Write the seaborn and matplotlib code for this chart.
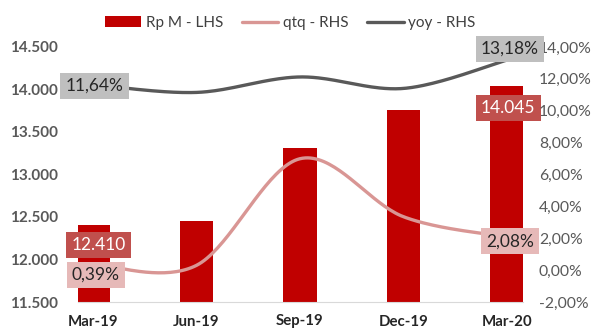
import numpy as np
import pandas as pd
import matplotlib
matplotlib.use("Agg")
import matplotlib.pyplot as plt
import seaborn as sns
from matplotlib.patches import Patch
from matplotlib.lines import Line2D
from matplotlib.ticker import FuncFormatter, MultipleLocator

# ---- data ----
categories = ["Mar-19", "Jun-19", "Sep-19", "Dec-19", "Mar-20"]
rp_m = [12410, 12450, 13310, 13760, 14045]
qtq = [0.0039, 0.0030, 0.0699, 0.0335, 0.0208]
yoy = [0.1164, 0.1115, 0.1212, 0.1140, 0.1318]
series_names = ["Rp M - LHS", "qtq - RHS", "yoy - RHS"]

BAR = "#C00000"
QTQ = "#D99694"
YOY = "#595959"
FONT = "Lato"

sns.set_theme(style="white")
plt.rcParams["font.family"] = [FONT, "DejaVu Sans"]

fig = plt.figure(figsize=(5.92, 3.31), dpi=100)
ax = fig.add_axes([78/592, 1-302/331, (523-78)/592, (302-47)/331])
pos = np.arange(len(categories))

sns.barplot(x=pos, y=rp_m, native_scale=True, width=0.325, color=BAR,
            saturation=1, ax=ax, edgecolor="none")
ax.set_xlim(-0.145, 4.155)
ax.set_ylim(11500, 14500)
ax.yaxis.set_major_locator(MultipleLocator(500))
ax.yaxis.set_major_formatter(FuncFormatter(lambda v, p: f"{v:,.0f}".replace(",", ".")))
ax.set_xticks(pos)
ax.set_xticklabels(categories)
for lab in ax.get_xticklabels():
    lab.set_fontweight("bold"); lab.set_fontsize(10.8); lab.set_color("#262626")
for lab in ax.get_yticklabels():
    lab.set_fontweight("bold"); lab.set_fontsize(11); lab.set_color("#595959")
ax.tick_params(axis="x", length=0, pad=9)
ax.tick_params(axis="y", length=0, pad=14.5)
for s in ["top", "left", "right"]:
    ax.spines[s].set_visible(False)
ax.spines["bottom"].set_color("#D9D9D9")
ax.spines["bottom"].set_linewidth(0.8)
ax.set_xlabel(""); ax.set_ylabel("")
ax.grid(False)

ax2 = ax.twinx()
ax2.set_position(ax.get_position())


def smooth(xs, ys, n=40):
    xs = np.asarray(xs, float); ys = np.asarray(ys, float)
    P = np.column_stack([xs, ys])
    P = np.vstack([P[0], P, P[-1]])
    out = []
    for i in range(1, len(P) - 2):
        p0, p1, p2, p3 = P[i-1], P[i], P[i+1], P[i+2]
        c1 = p1 + (p2 - p0) / 6
        c2 = p2 - (p3 - p1) / 6
        t = np.linspace(0, 1, n)[:, None]
        seg = (1-t)**3*p1 + 3*(1-t)**2*t*c1 + 3*(1-t)*t**2*c2 + t**3*p2
        out.append(seg if i == 1 else seg[1:])
    s = np.vstack(out)
    return s[:, 0], s[:, 1]

qx, qy = smooth(pos, qtq)
yx, yy = smooth(pos, yoy)
sns.lineplot(x=qx, y=qy, ax=ax2, sort=False, color=QTQ, linewidth=2.4, estimator=None)
sns.lineplot(x=yx, y=yy, ax=ax2, sort=False, color=YOY, linewidth=2.4, estimator=None)
ax2.set_xlim(-0.145, 4.155)
ax2.set_ylim(-0.02, 0.14)
ax2.yaxis.set_major_locator(MultipleLocator(0.02))
ax2.yaxis.set_major_formatter(FuncFormatter(lambda v, p: f"{v*100:.2f}%".replace(".", ",")))
for lab in ax2.get_yticklabels():
    lab.set_fontsize(11.3); lab.set_color("#595959")
ax2.tick_params(axis="y", length=0, pad=11.5)
for s in ax2.spines.values():
    s.set_visible(False)
ax2.set_ylabel(""); ax2.grid(False)


def box_label(axis, x, y, text, fc, tc, dx, dy):
    axis.annotate(text, (x, y), xytext=(dx, dy), textcoords="offset points",
                  ha="center", va="center", fontsize=12.5, color=tc,
                  annotation_clip=False,
                  bbox=dict(boxstyle="square,pad=0.3", fc=fc, ec="none"))

fmt_rp = lambda v: f"{v:,.0f}".replace(",", ".")
fmt_pc = lambda v: f"{v*100:.2f}%".replace(".", ",")
box_label(ax, pos[0], rp_m[0], fmt_rp(rp_m[0]), "#C0504D", "white", 4, -14.5)
box_label(ax, pos[-1], rp_m[-1], fmt_rp(rp_m[-1]), "#C0504D", "white", 1, -16)
box_label(ax2, pos[0], qtq[0], fmt_pc(qtq[0]), "#E6B9B8", "#262626", 2, -8)
box_label(ax2, pos[-1], qtq[-1], fmt_pc(qtq[-1]), "#E6B9B8", "#262626", 2, -3)
box_label(ax2, pos[0], yoy[0], fmt_pc(yoy[0]), "#BFBFBF", "#262626", 1, -1)
box_label(ax2, pos[-1], yoy[-1], fmt_pc(yoy[-1]), "#BFBFBF", "#262626", 2, 8)

handles = [Patch(facecolor=BAR, edgecolor="none"),
           Line2D([], [], color=QTQ, linewidth=2.4),
           Line2D([], [], color=YOY, linewidth=2.4)]
leg = fig.legend(handles, series_names, loc="center", bbox_to_anchor=(0.49, 0.93),
                 ncol=3, frameon=False, fontsize=11, handlelength=2.4,
                 handletextpad=0.3, columnspacing=1.2)
for t in leg.get_texts():
    t.set_color("#404040")

fig.savefig("out.png", dpi=100)
